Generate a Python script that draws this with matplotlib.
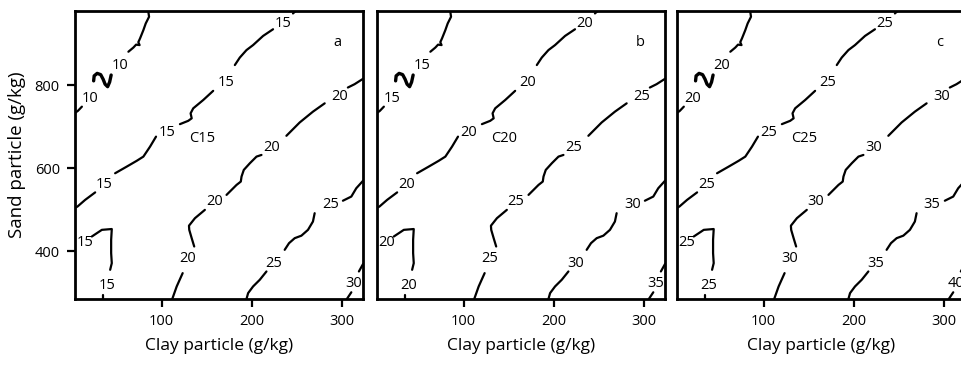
"""Three contour panels: C15 / C20 / C25 against clay and sand particle content."""
import matplotlib
matplotlib.use("Agg")
import matplotlib.pyplot as plt

plt.rcParams["font.family"] = ["Open Sans", "DejaVu Sans"]

CLAY_LIM = (4, 323)
SAND_LIM = (286, 978)
CLAY_TICKS = [100, 200, 300]
SAND_TICKS = [400, 600, 800]

PANEL_TAGS = ["a", "b", "c"]
PANEL_NAMES = ["C15", "C20", "C25"]
PANEL_LEVELS = [
    [10, 15, 20, 25, 30],
    [15, 20, 25, 30, 35],
    [20, 25, 30, 35, 40],
]

# contour traces as (clay, sand) points;
# the geometry is the same in all three panels, only the level values shift
iso0_top = [(85.2, 976), (86.0, 964), (82.3, 948), (79.7, 932), (76.0, 912),
            (74.1, 903), (75.5, 896), (71.6, 897), (68.6, 890), (63.1, 880)]
iso0_loop = [(24.6, 810), (25.2, 822), (28.5, 828), (32.4, 825), (35.1, 814),
             (37.3, 802), (40.1, 796), (42.3, 807), (44.0, 824)]
iso0_low = [(11.6, 748), (7.2, 738), (4.0, 733)]

iso1_a = [(245.4, 972), (248.4, 978)]
iso1_b = [(223.3, 934), (212.3, 918), (201.2, 896), (193.9, 884), (186.5, 866),
          (181.0, 848)]
iso1_c = [(157.0, 786), (146.0, 764), (134.9, 744), (132.0, 732), (133.2, 720),
          (129.4, 714), (120.2, 706)]
iso1_d = [(93.7, 676), (87.1, 652), (79.7, 628), (72.4, 618), (61.3, 604),
          (48.4, 588)]
iso1_e = [(26.3, 542), (15.2, 524), (6.7, 508), (4.0, 505)]

iso1_pocket = [(22.6, 436), (33.7, 452), (44.7, 454), (44.0, 428), (44.0, 396),
               (44.7, 372), (42.9, 356)]
iso1_stub = [(34.8, 296), (34.8, 286)]

iso2_a = [(323.0, 815), (313.6, 802), (306.2, 794)]
iso2_b = [(280.5, 756), (267.5, 736), (252.8, 710), (238.1, 678)]
iso2_c = [(210.5, 632), (205.0, 628), (197.6, 612), (190.9, 596), (188.4, 580),
          (187.6, 568), (182.9, 560), (171.8, 536)]
iso2_d = [(147.8, 500), (136.8, 480), (130.2, 462), (130.5, 452), (133.2, 432),
          (136.0, 412)]
iso2_e = [(123.2, 348), (116.6, 316), (111.7, 286)]

iso3_a = [(323.0, 570), (315.5, 552), (310.0, 532), (300.7, 522)]
iso3_b = [(269.4, 492), (267.5, 472), (262.0, 452), (254.7, 438), (247.3, 432),
          (241.0, 420), (236.2, 404)]
iso3_c = [(216.0, 352), (208.6, 332), (201.2, 316), (195.7, 300), (193.9, 286)]

iso4_a = [(323.0, 370), (318.4, 352)]
iso4_b = [(310.0, 302), (305.1, 286)]

SEGMENTS = [
    (0, iso0_top), (0, iso0_loop), (0, iso0_low),
    (1, iso1_a), (1, iso1_b), (1, iso1_c), (1, iso1_d), (1, iso1_e),
    (1, iso1_pocket), (1, iso1_stub),
    (2, iso2_a), (2, iso2_b), (2, iso2_c), (2, iso2_d), (2, iso2_e),
    (3, iso3_a), (3, iso3_b), (3, iso3_c),
    (4, iso4_a), (4, iso4_b),
]

# inline contour labels: (clay, sand, level index)
LABELS = [
    (53.9, 848, 0), (20.8, 768, 0),
    (234.4, 948, 1), (171.1, 806, 1), (105.5, 686, 1), (36.6, 560, 1),
    (15.2, 422, 1), (39.2, 318, 1),
    (297.0, 772, 2), (221.5, 650, 2), (158.1, 520, 2), (128.7, 382, 2),
    (286.7, 514, 3), (224.1, 372, 3),
    (312.5, 324, 4),
]

NAME_POS = (145.3, 672)
TAG_POS = (295.1, 902)

PANEL_LEFT = [0.0780, 0.3919, 0.7037]
PANEL_WIDTH = 0.2994


def main() -> None:
    fig = plt.figure(figsize=(9.62, 3.65), dpi=100)

    for i, levels in enumerate(PANEL_LEVELS):
        ax = fig.add_axes([PANEL_LEFT[i], 0.181, PANEL_WIDTH, 0.789])

        for lvl, pts in SEGMENTS:
            xs = [p[0] for p in pts]
            ys = [p[1] for p in pts]
            lw = 2.4 if pts is iso0_loop else 1.6
            ax.plot(xs, ys, color="black", linewidth=lw,
                    solid_capstyle="round", solid_joinstyle="round")

        for x, y, lvl in LABELS:
            ax.text(x, y, str(levels[lvl]), fontsize=10.5,
                    ha="center", va="center")

        ax.text(*NAME_POS, PANEL_NAMES[i], fontsize=10.5, ha="center", va="center")
        ax.text(*TAG_POS, PANEL_TAGS[i], fontsize=10.5, ha="center", va="center")

        ax.set_xlim(*CLAY_LIM)
        ax.set_ylim(*SAND_LIM)
        ax.set_xticks(CLAY_TICKS)
        ax.set_xlabel("Clay particle (g/kg)", fontsize=12.5, labelpad=6)
        if i == 0:
            ax.set_yticks(SAND_TICKS)
            ax.set_ylabel("Sand particle (g/kg)", fontsize=13.5, labelpad=6)
        else:
            ax.set_yticks([])

        for spine in ax.spines.values():
            spine.set_linewidth(2.0)
        ax.tick_params(width=1.6, length=6, labelsize=10.5, pad=5)

    fig.savefig("out.png", dpi=100)


if __name__ == "__main__":
    main()
